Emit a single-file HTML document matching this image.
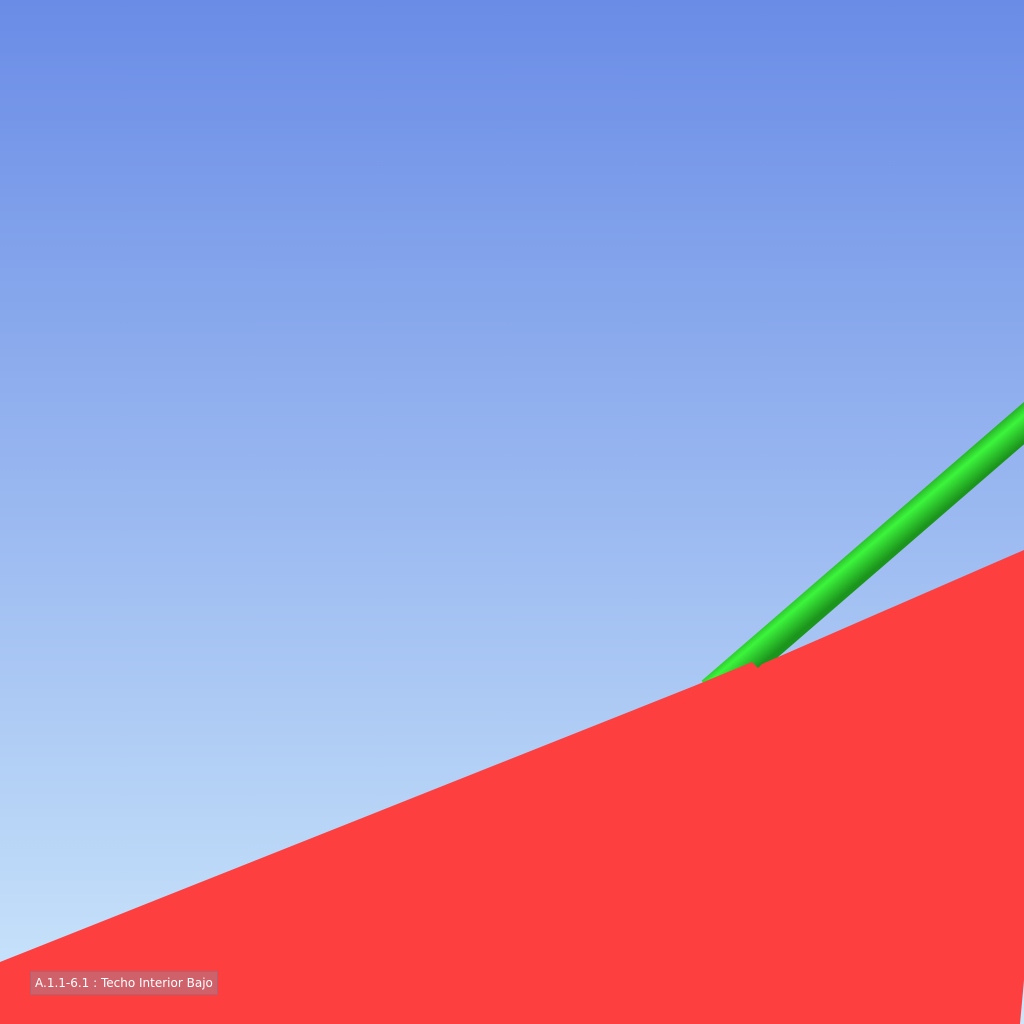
<!DOCTYPE html>
<html><head><meta charset="utf-8"><style>
html,body{margin:0;padding:0;width:1024px;height:1024px;overflow:hidden}
#lbl{position:absolute;left:30px;top:971px;height:22px;padding:0 4px;background:rgba(190,110,120,0.75);border:1px solid #b06070;color:#fff;font:12px "DejaVu Sans","Liberation Sans",sans-serif;line-height:22px;white-space:nowrap}
</style></head><body>
<svg width="1024" height="1024" style="position:absolute;left:0;top:0">
<defs>
<linearGradient id="sky" x1="0" y1="0" x2="0" y2="1">
<stop offset="0" stop-color="#6a8ce6"/><stop offset="1" stop-color="#cbe6fb"/>
</linearGradient>
<linearGradient id="tube" gradientUnits="userSpaceOnUse" x1="859" y1="537" x2="881" y2="563">
<stop offset="0" stop-color="#1f9a1f"/><stop offset="0.4" stop-color="#3cf53c"/><stop offset="1" stop-color="#1c951c"/>
</linearGradient>
</defs>
<rect width="1024" height="1024" fill="url(#sky)"/>
<line x1="1045" y1="405" x2="712" y2="693" stroke="url(#tube)" stroke-width="32"/>
<polygon points="0,962 694,686 752,662 758,668 762,664 1024,550 1024,980 1020,1024 0,1024" fill="#fe3f3f"/>
</svg>
<div id="lbl">A.1.1-6.1 : Techo Interior Bajo</div>
</body></html>
